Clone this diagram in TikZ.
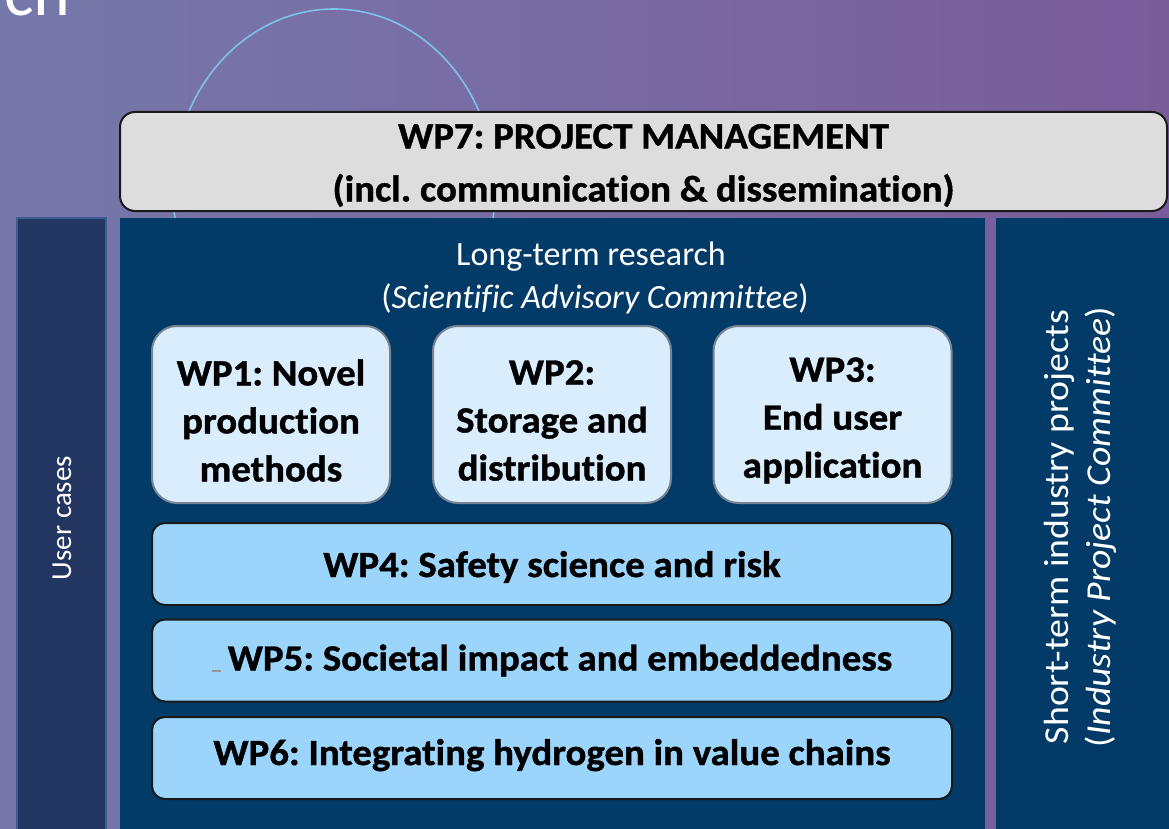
\documentclass[tikz,border=0pt]{standalone}
\usepackage{fontspec}
\setmainfont{Carlito}[Ligatures=CommonOff]
\newfontfamily\widefont{Carlito}[FakeStretch=1.08, Ligatures=CommonOff]
\newfontfamily\heavyfont{Carlito}[FakeStretch=1.05, FakeBold=1.1, Ligatures=CommonOff]
\frenchspacing

\definecolor{bgleft}{RGB}{118,120,170}
\definecolor{bgright}{RGB}{122,92,155}
\definecolor{navy}{RGB}{3,59,104}
\definecolor{usercol}{RGB}{35,54,98}
\definecolor{useredge}{RGB}{62,92,145}
\definecolor{mgmtfill}{RGB}{221,221,221}
\definecolor{wpfill}{RGB}{217,237,252}
\definecolor{wpedge}{RGB}{120,132,145}
\definecolor{barfill}{RGB}{155,213,252}
\definecolor{arcline}{RGB}{125,195,232}
\definecolor{markgray}{RGB}{150,150,150}

\tikzset{
  column/.style={anchor=north west, inner sep=0pt, outer sep=0pt},
  boldtext/.style={inner sep=0pt, font=\heavyfont\bfseries\fontsize{37}{48}\selectfont},
  mgmtbox/.style={draw=black!90, line width=2pt, fill=mgmtfill, rounded corners=15pt,
    minimum width=1047pt, minimum height=99pt, inner sep=0pt},
  wpbox/.style={draw=wpedge, line width=2pt, fill=wpfill, rounded corners=25pt,
    minimum width=238pt, minimum height=177pt, inner sep=0pt},
  barbox/.style={draw=black!90, line width=2pt, fill=barfill, rounded corners=13pt,
    minimum width=800pt, minimum height=82pt, inner sep=0pt},
  whitetext/.style={text=white, inner sep=0pt},
}

\begin{document}
\begin{tikzpicture}[x=1pt, y=-1pt]
  \useasboundingbox (0,0) rectangle (1169,829);
  \clip (0,0) rectangle (1169,829);

  % background
  \shade[left color=bgleft, right color=bgright] (0,0) rectangle (1169,829);

  % decorative outline behind the chart
  \draw[arcline, line width=1.6pt] (334,190) ellipse [x radius=161, y radius=181];

  % title fragment running off the top edge
  \node[whitetext, anchor=base west, font=\fontsize{70}{70}\selectfont] (heading) at (4,16) {ch};

  % management bar
  \node[mgmtbox] (wp7) at (643.5,161.5) {};
  \node[boldtext, align=center, font=\heavyfont\bfseries\fontsize{37}{53}\selectfont]
    (wp7text) at ([yshift=-4pt]wp7.center)
    {WP7: PROJECT MANAGEMENT\\(incl. communication \& dissemination)};

  % three columns
  \node[column, fill=usercol, draw=useredge, line width=1.2pt,
        minimum width=89pt, minimum height=640pt] (users) at (17,218) {};
  \node[column, fill=navy, minimum width=865pt, minimum height=640pt] (longterm) at (120,218) {};
  \node[column, fill=navy, minimum width=190pt, minimum height=640pt] (industry) at (996,218) {};

  % column labels
  \node[whitetext, rotate=90, font=\fontsize{29}{34}\selectfont] (userlbl) at (62,518) {User cases};
  \node[whitetext, anchor=base, font=\fontsize{34}{34}\selectfont] (lt1) at (591,265) {Long-term research};
  \node[whitetext, anchor=base, font=\fontsize{34}{34}\selectfont] (lt2) at (595,308)
    {(\textit{Scientific Advisory Committee})};
  \node[whitetext, rotate=90, align=center, font=\widefont\fontsize{35}{42}\selectfont] (indlbl)
    at (1080,527) {Short-term industry projects\\(\textit{Industry Project Committee})};

  % research work packages
  \node[wpbox] (wp1) at (271,414.5) {};
  \node[wpbox] (wp2) at (552,414.5) {};
  \node[wpbox] (wp3) at (832.5,414.5) {};
  \foreach \n/\t in {wp1/{WP1: Novel\\production\\methods},
                     wp2/{WP2:\\Storage and\\distribution},
                     wp3/{WP3:\\End user\\application}}
    \node[boldtext, align=center] (\n text) at ([yshift=-6pt]\n.center) {\t};

  % cross-cutting work packages
  \node[barbox] (wp4) at (552,564) {};
  \node[barbox] (wp5) at (552,660.5) {};
  \node[barbox] (wp6) at (552,758) {};
  \node[boldtext, anchor=base] (wp4text) at ([yshift=-13pt]wp4.center)
    {WP4: Safety science and risk};
  \node[boldtext, anchor=base] (wp5text) at ([yshift=-10pt]wp5.center)
    {{\color{markgray}\rule[-1pt]{9pt}{1.5pt}}\hspace{7pt}WP5: Societal impact and embeddedness};
  \node[boldtext, anchor=base] (wp6text) at ([yshift=-7pt]wp6.center)
    {WP6: Integrating hydrogen in value chains};
\end{tikzpicture}
\end{document}
